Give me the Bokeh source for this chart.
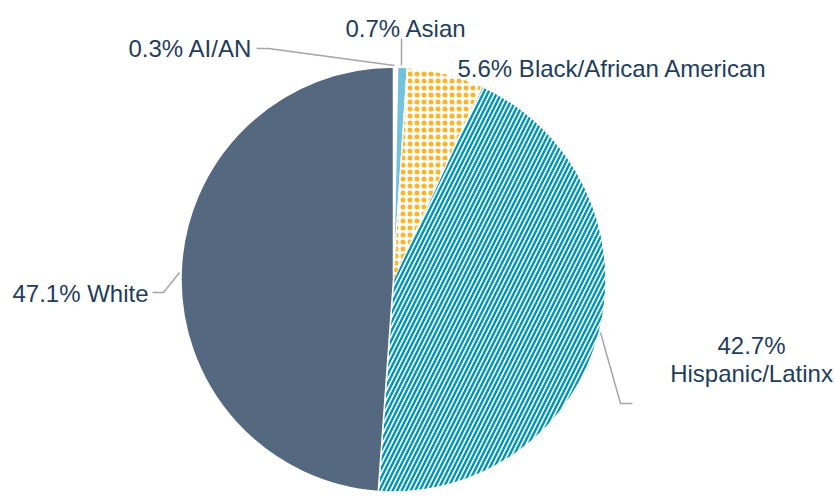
from bokeh.plotting import figure
from bokeh.models import Range1d
from bokeh.core.properties import value
from bokeh.embed import file_html
from bokeh.resources import INLINE
import numpy as np

# ---- data ----
categories = ["AI/AN", "Asian", "Black/African American", "Hispanic/Latinx", "White"]
percent = [0.3, 0.7, 5.6, 42.7, 47.1]
label_texts = ["0.3% AI/AN", "0.7% Asian", "5.6% Black/African American", "42.7%\nHispanic/Latinx", "47.1% White"]

# ---- styles ----
fills = ["#ffffff", "#72c1dd", "#ffffff", "#ffffff", "#546880"]
yellow, teal = "#fbb52b", "#0094b9"
hatch_kw = [
    None,
    None,
    dict(hatch_pattern="dot", hatch_color=yellow, hatch_scale=7, hatch_weight=4),
    dict(hatch_pattern="right_diagonal_line", hatch_color=teal, hatch_scale=9, hatch_weight=2.4),
    None,
]

W, H = 835, 497
def X(x):
    return x
def Y(y):
    return H - y

p = figure(width=W, height=H, output_backend="svg", toolbar_location=None,
           x_range=Range1d(0, W), y_range=Range1d(0, H), min_border=0)
p.axis.visible = False
p.grid.visible = False
p.outline_line_color = None
p.background_fill_color = "white"

cx, cy, r = X(393), Y(279), 212.5
vals = np.array(percent, dtype=float)
frac = vals / vals.sum()
cum = np.concatenate([[0.0], np.cumsum(frac)])
start = np.pi / 2 - cum[:-1] * 2 * np.pi
end = np.pi / 2 - cum[1:] * 2 * np.pi

for i in range(len(categories)):
    kw = hatch_kw[i] or {}
    p.wedge(x=cx, y=cy, radius=r, start_angle=start[i], end_angle=end[i],
            direction="clock", fill_color=fills[i], line_color="white", line_width=1.5, **kw)

# thicken the dotted texture of the Black/African American slice
p.wedge(x=cx, y=cy, radius=r - 1, start_angle=start[2] - 0.004, end_angle=end[2] + 0.004,
        direction="clock", fill_alpha=0, line_color=None,
        hatch_pattern="ring", hatch_color=yellow, hatch_scale=7, hatch_weight=1.5)

# leader lines
lc = "#a6a6a6"
p.line([X(256), X(268), X(394)], [Y(48), Y(48), Y(65)], line_color=lc, line_width=1.5)
p.line([X(401), X(401)], [Y(38), Y(65)], line_color=lc, line_width=1.5)
p.line([X(600), X(620), X(632)], [Y(332), Y(403), Y(403)], line_color=lc, line_width=1.5)
p.line([X(152), X(163), X(179)], [Y(292), Y(292), Y(272)], line_color=lc, line_width=1.5)

tc = "#1f3d5c"
font = value("Liberation Sans")
fs = "24px"
def txt(x, y, t, align="left"):
    p.text(x=[x], y=[y], text=[t], text_font=font, text_font_size=fs, text_color=tc,
           text_align=align, text_baseline="alphabetic")

txt(X(128), Y(48), label_texts[0])
txt(X(345), Y(28), label_texts[1])
txt(X(457), Y(68), label_texts[2])
l1, l2 = label_texts[3].split("\n")
txt(X(751), Y(345), l1, "center")
txt(X(751), Y(373), l2, "center")
txt(X(12), Y(293), label_texts[4])

open("out.html", "w").write(file_html(p, INLINE))
